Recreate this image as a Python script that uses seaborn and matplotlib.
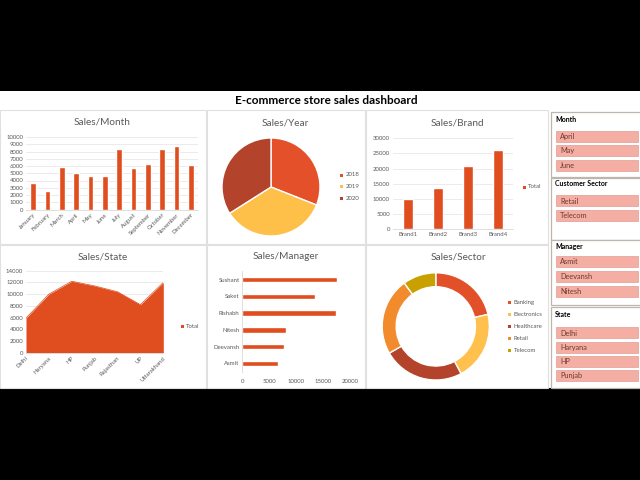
import numpy as np
import pandas as pd
import matplotlib
matplotlib.use("Agg")
import matplotlib.pyplot as plt
import seaborn as sns
from matplotlib.patches import Rectangle

# ---------------- data ----------------
months = ["January", "February", "March", "April", "May", "June", "July",
          "August", "September", "October", "November", "December"]
month_sales = [3600, 2600, 5900, 5100, 4600, 4650, 8400, 5700, 6300, 8300, 8700, 6200]

years = ["2018", "2019", "2020"]
year_sales = [31, 35, 34]

brands = ["Brand1", "Brand2", "Brand3", "Brand4"]
brand_sales = [9800, 13400, 20800, 26000]

states = ["Delhi", "Haryana", "HP", "Punjab", "Rajasthan", "UP", "Uttarakhand"]
state_sales = [5900, 10000, 12200, 11400, 10400, 8200, 12000]

managers = ["Sushant", "Saket", "Rishabh", "Nitesh", "Deevansh", "Asmit"]
manager_sales = [17400, 13450, 17250, 8050, 7650, 6600]

sectors = ["Banking", "Electronics", "Healthcare", "Retail", "Telecom"]
sector_sales = [21.4, 20.8, 24.5, 23.3, 10.0]

slicer_month = ["April", "May", "June"]
slicer_sector = ["Retail", "Telecom"]
slicer_manager = ["Asmit", "Deevansh", "Nitesh"]
slicer_state = ["Delhi", "Haryana", "HP", "Punjab"]

# ---------------- style ----------------
sns.set_theme(style="white")
plt.rcParams['font.family'] = ['Lato', 'DejaVu Sans']

W, H = 640, 480
BAR = "#E04D1E"
GREY = "#595959"
GRID = "#E3E3E3"
TICK_FS = 4.3
year_colors = ["#E4502A", "#FFC04A", "#B3432A"]
sector_colors = ["#E2502A", "#FFC04D", "#B3432A", "#F28B2C", "#C8A000"]

fig = plt.figure(figsize=(6.4, 4.8), dpi=100, facecolor="black")


def fx(x):
    return x / W


def fy(y):
    return 1 - y / H


def px_axes(x0, y0, x1, y1):
    return fig.add_axes([x0 / W, 1 - y1 / H, (x1 - x0) / W, (y1 - y0) / H])


def rect(x0, y0, x1, y1, **kw):
    r = Rectangle((fx(x0), fy(y1)), fx(x1) - fx(x0), fy(y0) - fy(y1),
                  transform=fig.transFigure, **kw)
    fig.patches.append(r)
    return r


# white dashboard band
rect(0, 91, 640, 388, facecolor="white", edgecolor="none", zorder=-5)

# panel borders
for (x0, y0, x1, y1) in [(0, 110, 206, 244), (207, 110, 365, 244), (366, 110, 548, 244),
                         (0, 245, 206, 388), (207, 245, 365, 388), (366, 245, 548, 388)]:
    rect(x0, y0, x1, y1, facecolor="none", edgecolor="#E0E0E0", lw=0.8, zorder=-4)

fig.text(fx(326), fy(100.5), "E-commerce store sales dashboard", ha="center", va="center",
         fontsize=8.5, fontweight="bold", color="black")

titles = [("Sales/Month", 102, 122.5), ("Sales/Year", 285, 123), ("Sales/Brand", 457, 123),
          ("Sales/State", 103, 256.5), ("Sales/Manager", 286, 256.5), ("Sales/Sector", 458, 257.5)]
for t, x, y in titles:
    fig.text(fx(x), fy(y), t, ha="center", va="center", fontsize=7.2, color=GREY)


def style_axes(ax, grid_axis="y"):
    for s in ["top", "right", "left"]:
        ax.spines[s].set_visible(False)
    ax.spines["bottom"].set_color("#D9D9D9")
    ax.spines["bottom"].set_linewidth(0.6)
    ax.tick_params(axis="both", length=0, labelsize=TICK_FS, labelcolor=GREY, pad=2)
    if grid_axis:
        ax.grid(axis=grid_axis, color=GRID, lw=0.5)
        ax.set_axisbelow(True)
    ax.set_xlabel("")
    ax.set_ylabel("")
    ax.set_facecolor("none")


def legend_items(x_marker, x_text, ys, labels, colors, fs=4.3):
    for y, lab, c in zip(ys, labels, colors):
        rect(x_marker - 1.5, y - 1.5, x_marker + 1.5, y + 1.5, facecolor=c, edgecolor="none", zorder=3)
        fig.text(fx(x_text), fy(y), lab, ha="left", va="center", fontsize=fs, color=GREY)


# ---------------- Sales/Month ----------------
ax = px_axes(26, 137, 198, 209.5)
df_m = pd.DataFrame({"Month": months, "Sales": month_sales})
sns.barplot(data=df_m, x="Month", y="Sales", color=BAR, width=0.4, ax=ax, saturation=1)
ax.set_ylim(0, 10000)
ax.set_yticks(np.arange(0, 10001, 1000))
style_axes(ax)
ax.set_xticks(range(len(months)))
ax.set_xticklabels(months, rotation=45, ha="right", rotation_mode="anchor")

# ---------------- Sales/Year ----------------
ax = px_axes(222, 138, 320, 236)
ax.pie(year_sales, colors=year_colors, startangle=90, counterclock=False,
       wedgeprops=dict(edgecolor="white", linewidth=1.0))
ax.set_xlim(-1, 1)
ax.set_ylim(-1, 1)
legend_items(341.7, 345.5, [175, 186.5, 198], years, year_colors)

# ---------------- Sales/Brand ----------------
ax = px_axes(392.7, 138.3, 512.7, 229)
df_b = pd.DataFrame({"Brand": brands, "Sales": brand_sales})
sns.barplot(data=df_b, x="Brand", y="Sales", color=BAR, width=0.33, ax=ax, saturation=1)
ax.set_ylim(0, 30000)
ax.set_yticks(np.arange(0, 30001, 5000))
style_axes(ax)
legend_items(524, 527.5, [187], ["Total"], [BAR])

# ---------------- Sales/State ----------------
ax = px_axes(26, 270.7, 163.3, 352.7)
xs = np.arange(len(states))
ax.fill_between(xs, state_sales, color=BAR, lw=0)
sns.lineplot(x=xs, y=state_sales, color=BAR, lw=0.5, ax=ax)
ax.set_xlim(0, len(states) - 1)
ax.set_ylim(0, 14000)
ax.set_yticks(np.arange(0, 14001, 2000))
style_axes(ax)
ax.set_xticks(xs)
ax.set_xticklabels(states, rotation=45, ha="right", rotation_mode="anchor")
legend_items(182, 185.5, [326.5], ["Total"], [BAR])

# ---------------- Sales/Manager ----------------
ax = px_axes(242.3, 271.3, 350.7, 371.7)
df_mg = pd.DataFrame({"Manager": managers, "Sales": manager_sales})
sns.barplot(data=df_mg, y="Manager", x="Sales", color=BAR, width=0.32, orient="h", ax=ax, saturation=1)
ax.set_xlim(0, 20000)
ax.set_xticks(np.arange(0, 20001, 5000))
style_axes(ax, grid_axis=None)
ax.spines["bottom"].set_visible(False)
ax.spines["left"].set_visible(True)
ax.spines["left"].set_color("#D9D9D9")
ax.spines["left"].set_linewidth(0.6)
ax.tick_params(axis="x", pad=5)

# ---------------- Sales/Sector ----------------
ax = px_axes(382.2, 272.8, 489.4, 380)
ax.pie(sector_sales, colors=sector_colors, startangle=90, counterclock=False,
       wedgeprops=dict(width=0.26, edgecolor="white", linewidth=1.0))
ax.set_xlim(-1, 1)
ax.set_ylim(-1, 1)
legend_items(509.5, 513.5, [302.3, 314.3, 326.2, 338.3, 350.3], sectors, sector_colors)

# ---------------- Slicers ----------------
BOX_FC = "#F4AEA3"
BOX_EC = "#E29C92"
BOX_TXT = "#6E3A2E"


def slicer(top, bottom, header, header_y, items, first_y, pitch):
    rect(551, top, 641, bottom, facecolor="white", edgecolor="#BDB6AE", lw=0.9, zorder=2)
    fig.text(fx(555), fy(header_y), header, ha="left", va="center", fontsize=5.0,
             fontweight="bold", color="black", zorder=4)
    for i, it in enumerate(items):
        y0 = first_y + i * pitch
        rect(555.5, y0, 637.5, y0 + 11, facecolor=BOX_FC, edgecolor=BOX_EC, lw=0.5, zorder=3)
        fig.text(fx(560), fy(y0 + 5.7), it, ha="left", va="center", fontsize=5.3,
                 color=BOX_TXT, zorder=4)


slicer(112, 177, "Month", 119.7, slicer_month, 130.5, 14.5)
slicer(178, 240, "Customer Sector", 184, slicer_sector, 195.3, 14.4)
slicer(240, 305, "Manager", 246.7, slicer_manager, 255.7, 15.3)
slicer(307, 388, "State", 314.5, slicer_state, 327.3, 14.3)

fig.savefig("out.png", dpi=100, facecolor=fig.get_facecolor())
